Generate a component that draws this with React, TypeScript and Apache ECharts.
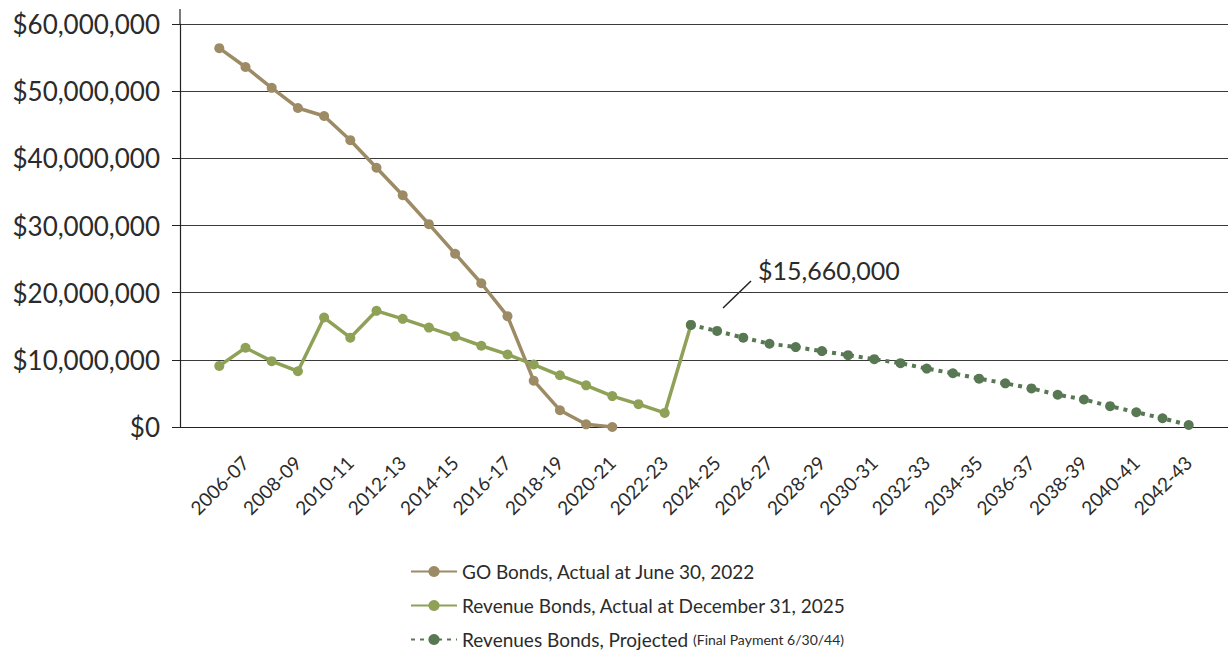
import React, { useEffect, useRef } from "react";
import * as echarts from "echarts";

const fiscalYears = [
  "2006-07", "2007-08", "2008-09", "2009-10", "2010-11", "2011-12", "2012-13", "2013-14",
  "2014-15", "2015-16", "2016-17", "2017-18", "2018-19", "2019-20", "2020-21", "2021-22",
  "2022-23", "2023-24", "2024-25", "2025-26", "2026-27", "2027-28", "2028-29", "2029-30",
  "2030-31", "2031-32", "2032-33", "2033-34", "2034-35", "2035-36", "2036-37", "2037-38",
  "2038-39", "2039-40", "2040-41", "2041-42", "2042-43", "2043-44",
];

// GO Bonds, 2006-07 .. 2021-22
const goBonds = [
  56400000, 53600000, 50500000, 47500000, 46300000, 42700000, 38600000, 34500000,
  30200000, 25800000, 21400000, 16500000, 6900000, 2500000, 400000, 0,
];

// Revenue Bonds actual, 2006-07 .. 2024-25
const revenueActual = [
  9100000, 11800000, 9800000, 8300000, 16300000, 13300000, 17300000, 16100000,
  14800000, 13500000, 12100000, 10800000, 9300000, 7700000, 6200000, 4600000,
  3400000, 2100000, 15200000,
];

// Revenue Bonds projected, 2024-25 .. 2043-44
const revenueProjected = [
  15200000, 14300000, 13300000, 12400000, 11900000, 11300000, 10700000, 10100000,
  9500000, 8700000, 8000000, 7200000, 6500000, 5750000, 4800000, 4100000,
  3100000, 2200000, 1300000, 300000,
];

const yTicks = [0, 10000000, 20000000, 30000000, 40000000, 50000000, 60000000];
const calloutText = "$15,660,000";

const names = {
  go: "GO Bonds, Actual at June 30, 2022",
  rev: "Revenue Bonds, Actual at December 31, 2025",
  proj: "Revenues Bonds, Projected",
};

const colors = { go: "#9c8b65", rev: "#8ea157", proj: "#577853" };

export default function App() {
  const ref = useRef<HTMLDivElement>(null);
  useEffect(() => {
    if (!ref.current) return;
    const chart = echarts.init(ref.current, null, { renderer: "svg" });
    const n = fiscalYears.length;
    const cats = ["", ...fiscalYears, ""];
    const pad = (arr: number[], start: number) => {
      const out: (number | null)[] = new Array(n + 2).fill(null);
      arr.forEach((v, i) => (out[start + 1 + i] = v));
      return out;
    };
    const projStart = fiscalYears.indexOf("2024-25");
    const font = "Lato, 'Open Sans', sans-serif";
    chart.setOption({
      animation: false,
      textStyle: { fontFamily: font },
      grid: { left: 180, right: 0, top: 24, bottom: 223, containLabel: false },
      xAxis: {
        type: "category",
        data: cats,
        boundaryGap: true,
        axisLine: { show: true, lineStyle: { color: "#222", width: 1.2 } },
        axisTick: { show: false },
        splitLine: { show: false },
        axisLabel: {
          interval: (i: number) => i % 2 === 1,
          rotate: 45,
          align: "center",
          verticalAlign: "middle",
          margin: 58,
          fontSize: 19,
          color: "#2b2b2b",
          fontFamily: font,
        },
      },
      yAxis: {
        type: "value",
        min: yTicks[0],
        max: yTicks[yTicks.length - 1],
        interval: yTicks[1] - yTicks[0],
        axisLine: { show: true, lineStyle: { color: "#222", width: 1.2 } },
        axisTick: { show: true, length: 8, lineStyle: { color: "#222" } },
        splitLine: { show: true, lineStyle: { color: "#3a3a3a", width: 1 } },
        axisLabel: {
          margin: 20,
          fontSize: 26,
          color: "#2b2b2b",
          fontFamily: font,
          formatter: (v: number) => "$" + v.toLocaleString("en-US"),
        },
      },
      legend: {
        orient: "vertical",
        left: 410,
        top: 562,
        width: 700,
        height: 200,
        padding: 0,
        itemWidth: 46,
        itemHeight: 14,
        itemGap: 15,
        textStyle: {
          fontSize: 19,
          color: "#2b2b2b",
          fontFamily: font,
          lineHeight: 18,
          rich: {
            a: { fontSize: 19, color: "#2b2b2b", fontFamily: font, lineHeight: 18 },
            b: { fontSize: 14, color: "#2b2b2b", fontFamily: font, lineHeight: 18 },
          },
        },
        formatter: (name: string) =>
          name === names.proj ? `{a|${name}} {b|(Final Payment 6/30/44)}` : name,
        data: [names.go, names.rev, names.proj],
      },
      series: [
        {
          name: names.go,
          type: "line",
          data: pad(goBonds, 0),
          symbol: "circle",
          symbolSize: 10,
          lineStyle: { color: colors.go, width: 3.5 },
          itemStyle: { color: colors.go },
          z: 2,
        },
        {
          name: names.rev,
          type: "line",
          data: pad(revenueActual, 0),
          symbol: "circle",
          symbolSize: 10,
          lineStyle: { color: colors.rev, width: 3.5 },
          itemStyle: { color: colors.rev },
          z: 3,
        },
        {
          name: names.proj,
          type: "line",
          data: pad(revenueProjected, projStart),
          symbol: "circle",
          symbolSize: 10,
          lineStyle: { color: colors.proj, width: 4, type: [4, 5], cap: "butt" },
          itemStyle: { color: colors.proj },
          z: 4,
        },
      ],
      graphic: [
        { type: "line", shape: { x1: 180, y1: 9, x2: 180, y2: 24 }, style: { stroke: "#222", lineWidth: 1.2 } },
        { type: "line", shape: { x1: 723, y1: 308, x2: 751, y2: 281 }, style: { stroke: "#222", lineWidth: 1.5 } },
        {
          type: "text",
          left: 758,
          top: 257,
          style: { text: calloutText, fontSize: 25, fill: "#2b2b2b", fontFamily: font },
        },
      ],
    });
    return () => chart.dispose();
  }, []);
  return (
    <div
      ref={ref}
      style={{ position: "absolute", left: 0, top: 0, width: 1228, height: 650, background: "#fff" }}
    />
  );
}
